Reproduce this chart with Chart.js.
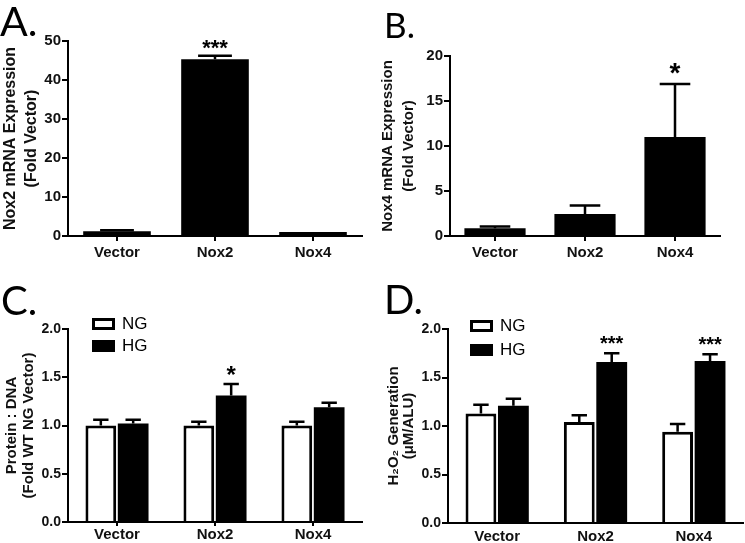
<!DOCTYPE html>
<html>
<head>
<meta charset="utf-8">
<script src="https://cdn.jsdelivr.net/npm/chart.js@4.4.1/dist/chart.umd.min.js"></script>
<style>
  body { margin: 0; background: #fff; }
  #wrap { position: relative; width: 745px; height: 543px; overflow: hidden; background: #fff; }
  canvas { position: absolute; }
  .letter { position: absolute; font-family: Lato, "Open Sans", sans-serif; line-height: 1; color: #000; }
</style>
</head>
<body>
<div id="wrap">
  <canvas id="chartA" width="370" height="270" style="left:0;top:0"></canvas>
  <canvas id="chartB" width="375" height="270" style="left:370px;top:0"></canvas>
  <canvas id="chartC" width="370" height="273" style="left:0;top:270px"></canvas>
  <canvas id="chartD" width="375" height="273" style="left:370px;top:270px"></canvas>
  <div class="letter" style="left:0;top:0;font-size:41px">A.</div>
  <div class="letter" style="left:384px;top:7px;font-size:35px">B.</div>
  <div class="letter" style="left:1px;top:280px;font-size:40px">C.</div>
  <div class="letter" style="left:384px;top:279px;font-size:40px">D.</div>
</div>
<script>
// categories
var groups = ['Vector', 'Nox2', 'Nox4'];

// A : Nox2 mRNA
var nox2Mrna = [1.2, 45.3, 1.0];
var nox2MrnaErr = [1.45, 46.2, 1.0];
var nox2MrnaSig = ['', '***', ''];

// B : Nox4 mRNA
var nox4Mrna = [0.85, 2.45, 11.0];
var nox4MrnaErr = [1.05, 3.4, 16.9];
var nox4MrnaSig = ['', '', '*'];

// C : protein / DNA
var proteinNG = [1.0, 1.0, 1.0];
var proteinNGErr = [1.06, 1.04, 1.04];
var proteinHG = [1.02, 1.31, 1.19];
var proteinHGErr = [1.06, 1.43, 1.235];
var proteinSig = ['', '*', ''];

// D : H2O2 generation
var h2o2NG = [1.13, 1.04, 0.94];
var h2o2NGErr = [1.22, 1.11, 1.02];
var h2o2HG = [1.21, 1.66, 1.67];
var h2o2HGErr = [1.28, 1.75, 1.74];
var h2o2Sig = ['', '***', '***'];

Chart.defaults.font.family = '"Liberation Sans", Arial, sans-serif';
Chart.defaults.color = '#000';
Chart.defaults.animation = false;

// error bars (upper only) + significance stars
var errorBars = {
  id: 'errorBars',
  afterDatasetsDraw: function (chart, args, opts) {
    var ctx = chart.ctx;
    var y = chart.scales.y;
    ctx.save();
    chart.data.datasets.forEach(function (ds, di) {
      var meta = chart.getDatasetMeta(di);
      meta.data.forEach(function (bar, i) {
        var top = y.getPixelForValue(ds.err[i]);
        var half = bar.width * 0.25;
        if (ds.err[i] > ds.data[i]) {
          ctx.strokeStyle = '#000';
          ctx.lineWidth = 2.5;
          ctx.beginPath();
          ctx.moveTo(bar.x, bar.y);
          ctx.lineTo(bar.x, top);
          ctx.moveTo(bar.x - half, top);
          ctx.lineTo(bar.x + half, top);
          ctx.stroke();
        }
        if (ds.sig && ds.sig[i]) {
          ctx.fillStyle = '#000';
          ctx.font = 'bold ' + opts.starSize + 'px "Liberation Sans", Arial, sans-serif';
          ctx.textAlign = 'center';
          ctx.textBaseline = 'alphabetic';
          ctx.fillText(ds.sig[i], bar.x, top + opts.starShift);
        }
      });
    });
    ctx.restore();
  }
};

// little legend, top-left (NG / HG)
var boxLegend = {
  id: 'boxLegend',
  afterDraw: function (chart, args, opts) {
    if (!opts.show) return;
    var ctx = chart.ctx;
    ctx.save();
    chart.data.datasets.forEach(function (ds, di) {
      var by = opts.y[di];
      ctx.fillStyle = ds.backgroundColor;
      ctx.fillRect(opts.x, by, 23, 12);
      ctx.strokeStyle = '#000';
      ctx.lineWidth = 3;
      ctx.strokeRect(opts.x + 1.5, by + 1.5, 20, 9);
      ctx.fillStyle = '#000';
      ctx.font = '17px "Liberation Sans", Arial, sans-serif';
      ctx.textAlign = 'left';
      ctx.textBaseline = 'middle';
      ctx.fillText(ds.label, opts.x + 30, by + 6);
    });
    ctx.restore();
  }
};

function makeChart(id, p) {
  var ctx = document.getElementById(id).getContext('2d');
  return new Chart(ctx, {
    type: 'bar',
    data: { labels: groups, datasets: p.datasets },
    options: {
      responsive: false,
      layout: { padding: { left: 0, right: p.padRight, top: p.padTop, bottom: 0 } },
      plugins: {
        legend: { display: false },
        tooltip: { enabled: false },
        errorBars: { starSize: p.starSize, starShift: p.starShift },
        boxLegend: p.legend || { show: false }
      },
      scales: {
        x: {
          grid: { display: true, offset: false, drawOnChartArea: false, drawTicks: p.xTicks,
                  tickLength: p.xTickLen, color: '#000', lineWidth: 2 },
          border: { color: '#000', width: 2 },
          ticks: { font: { size: 15, weight: 'bold' }, color: '#111', padding: p.xPad },
          afterFit: function (s) { s.height = p.xHeight; }
        },
        y: {
          min: 0, max: p.max,
          grid: { display: true, drawOnChartArea: false, drawTicks: true,
                  tickLength: 6, color: '#000', lineWidth: 2 },
          border: { color: '#000', width: 2 },
          ticks: {
            stepSize: p.step,
            font: { size: p.tickSize, weight: 'bold' },
            color: '#111',
            padding: 1,
            callback: function (v) { return p.dec ? v.toFixed(1) : v; }
          },
          title: {
            display: true,
            text: p.title,
            font: { size: p.titleSize, weight: 'bold', lineHeight: p.titleLh },
            color: '#111',
            padding: { top: p.titlePad, bottom: 0 }
          },
          afterFit: function (s) { s.width = p.yWidth; }
        }
      }
    },
    plugins: [errorBars, boxLegend]
  });
}

makeChart('chartA', {
  datasets: [{ label: 'Nox2', data: nox2Mrna, err: nox2MrnaErr, sig: nox2MrnaSig,
               backgroundColor: '#000', borderWidth: 0,
               categoryPercentage: 0.69, barPercentage: 1 }],
  max: 50, step: 10, dec: false, tickSize: 15,
  title: ['Nox2 mRNA Expression', '(Fold Vector)'], titleSize: 16, titleLh: 1.3, titlePad: 0,
  yWidth: 68, padRight: 8, padTop: 41, xHeight: 34, xPad: 3, xTicks: true, xTickLen: 5,
  starSize: 22, starShift: -1
});

makeChart('chartB', {
  datasets: [{ label: 'Nox4', data: nox4Mrna, err: nox4MrnaErr, sig: nox4MrnaSig,
               backgroundColor: '#000', borderWidth: 0,
               categoryPercentage: 0.68, barPercentage: 1 }],
  max: 20, step: 5, dec: false, tickSize: 15,
  title: ['Nox4 mRNA Expression', '(Fold Vector)'], titleSize: 15, titleLh: 1.35, titlePad: 8,
  yWidth: 80, padRight: 25, padTop: 56, xHeight: 34, xPad: 3, xTicks: true, xTickLen: 5,
  starSize: 28, starShift: -2
});

makeChart('chartC', {
  datasets: [
    { label: 'NG', data: proteinNG, err: proteinNGErr,
      backgroundColor: '#fff', borderColor: '#000', borderWidth: 3,
      categoryPercentage: 0.66, barPercentage: 0.95 },
    { label: 'HG', data: proteinHG, err: proteinHGErr, sig: proteinSig,
      backgroundColor: '#000', borderColor: '#000', borderWidth: 0,
      categoryPercentage: 0.66, barPercentage: 0.95 }
  ],
  max: 2.0, step: 0.5, dec: true, tickSize: 14,
  title: ['Protein : DNA', '(Fold WT NG Vector)'], titleSize: 15, titleLh: 1.1, titlePad: 4,
  yWidth: 68, padRight: 8, padTop: 59, xHeight: 21, xPad: 0, xTicks: true, xTickLen: 4,
  starSize: 24, starShift: -1,
  legend: { show: true, x: 92, y: [48, 70] }
});

makeChart('chartD', {
  datasets: [
    { label: 'NG', data: h2o2NG, err: h2o2NGErr,
      backgroundColor: '#fff', borderColor: '#000', borderWidth: 3,
      categoryPercentage: 0.66, barPercentage: 0.95 },
    { label: 'HG', data: h2o2HG, err: h2o2HGErr, sig: h2o2Sig,
      backgroundColor: '#000', borderColor: '#000', borderWidth: 0,
      categoryPercentage: 0.66, barPercentage: 0.95 }
  ],
  max: 2.0, step: 0.5, dec: true, tickSize: 14,
  title: ['H\u2082O\u2082 Generation', '(\u03bcM/ALU)'], titleSize: 15, titleLh: 1.0, titlePad: 16,
  yWidth: 78, padRight: 2, padTop: 59, xHeight: 20, xPad: 5, xTicks: false, xTickLen: 5,
  starSize: 20, starShift: -3,
  legend: { show: true, x: 100, y: [50, 74] }
});
</script>
</body>
</html>
